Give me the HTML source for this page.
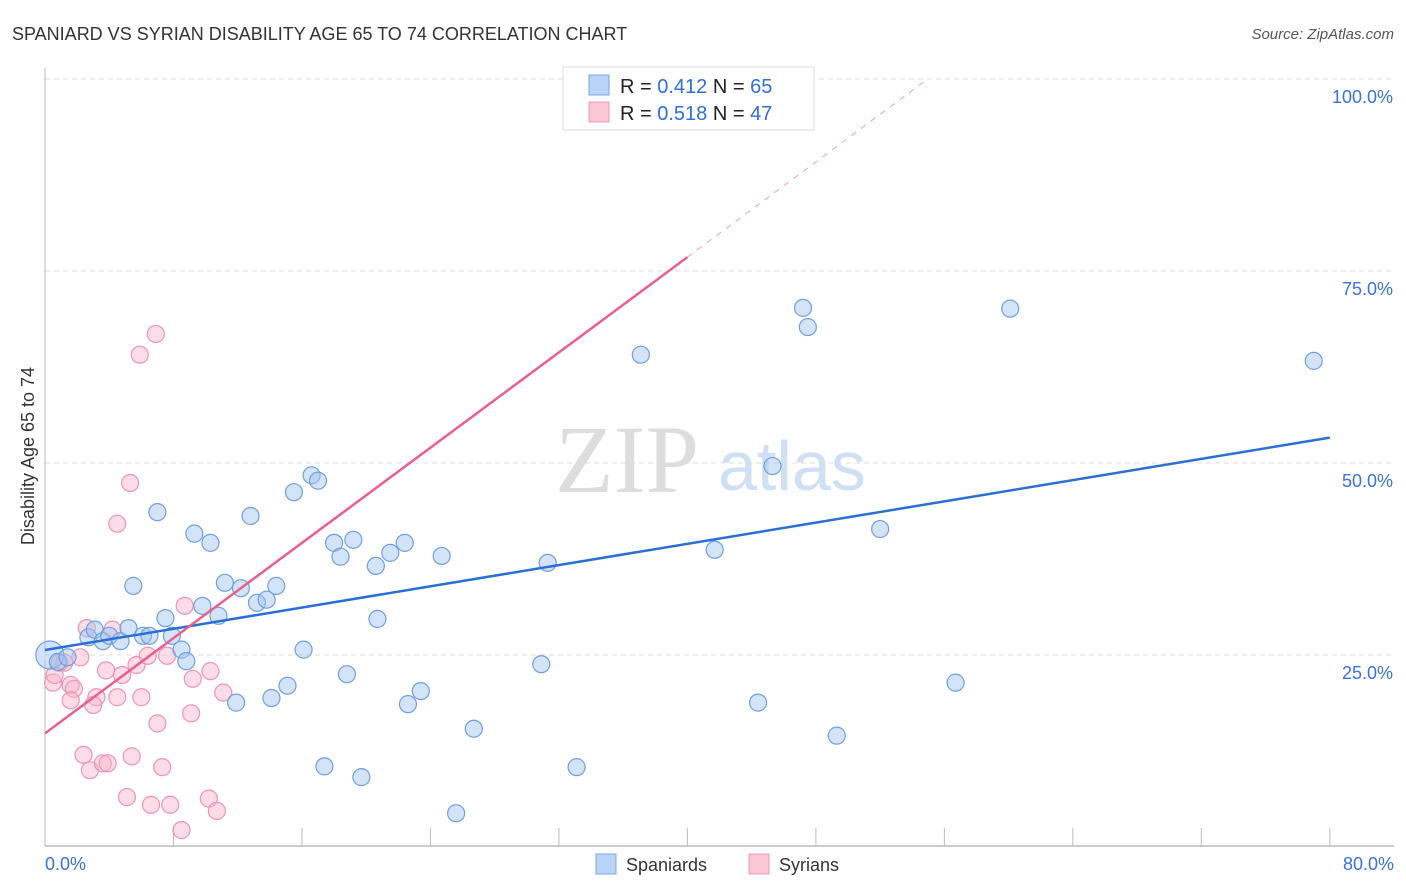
<!DOCTYPE html>
<html><head><meta charset="utf-8"><style>
body{margin:0;background:#fff;font-family:"Liberation Sans",sans-serif}
svg{display:block}
</style></head><body>
<svg id="chart" width="1406" height="892">
<text x="12" y="40" font-size="18" fill="#333">SPANIARD VS SYRIAN DISABILITY AGE 65 TO 74 CORRELATION CHART</text>
<text x="1394" y="39" font-size="15" fill="#555" font-style="italic" text-anchor="end">Source: ZipAtlas.com</text>
<g>
<text x="555" y="492" font-size="96" font-family="Liberation Serif,serif" fill="#ddd">ZIP</text>
<text x="718" y="490" font-size="70" fill="#cfe0f5">atlas</text>
</g>
<g id="grid"></g>
<g id="axes"></g>
<line x1="45" y1="653" x2="45" y2="660" stroke="#eee"/>
<text x="34" y="456" font-size="18" fill="#333" text-anchor="middle" transform="rotate(-90 34 456)">Disability Age 65 to 74</text>
<g id="pinkpts"></g>
<g id="bluepts"></g>
<g id="lines"></g>
<g>
<rect x="563" y="67" width="251" height="63" fill="#fff" stroke="#ddd"/>
<rect x="589" y="75" width="20" height="20" fill="#b9d4f6" stroke="#7aa7e3"/>
<rect x="589" y="102" width="20" height="20" fill="#fbc6d6" stroke="#ee9cb6"/>
<text x="620" y="93" font-size="20" fill="#222">R = <tspan fill="#2f6fd6">0.412</tspan>   N = <tspan fill="#2f6fd6">65</tspan></text>
<text x="620" y="120" font-size="20" fill="#222">R = <tspan fill="#2f6fd6">0.518</tspan>   N = <tspan fill="#2f6fd6">47</tspan></text>
</g>
<text x="45" y="870" font-size="18" fill="#3a72d6">0.0%</text>
<text x="1394" y="870" font-size="18" fill="#3a72d6" text-anchor="end">80.0%</text>
<g>
<rect x="596" y="854" width="20" height="20" fill="#b9d4f6" stroke="#7aa7e3"/>
<text x="626" y="871" font-size="18" fill="#333">Spaniards</text>
<rect x="749" y="854" width="20" height="20" fill="#fbc6d6" stroke="#ee9cb6"/>
<text x="779" y="871" font-size="18" fill="#333">Syrians</text>
</g>
</svg>
<script>
const yTicks=[25,50,75,100];
const yTickLabels=["25.0%","50.0%","75.0%","100.0%"];
const xTicks=[0,8,16,24,32,40,48,56,64,72,80];
const blueX=[0.3,0.8,1.4,2.7,3.1,3.6,4.0,4.7,5.2,5.5,6.1,6.5,7.0,7.5,7.9,8.5,8.8,9.3,9.8,10.3,10.8,11.2,11.9,12.2,12.8,13.2,13.8,14.1,14.4,15.1,15.5,16.1,16.6,17.0,17.4,18.0,18.4,18.8,19.2,19.7,20.6,20.7,21.5,22.4,22.6,23.4,24.7,25.6,26.7,30.9,31.3,33.1,37.1,41.7,44.4,45.3,47.2,47.5,49.3,52.0,56.7,60.1,79.0];
const blueY=[25.0,24.1,24.7,27.3,28.3,26.8,27.5,26.8,28.5,34.0,27.5,27.5,43.6,29.8,27.5,25.7,24.2,40.8,31.4,39.6,30.1,34.4,18.8,33.7,43.1,31.8,32.2,19.4,34.0,21.0,46.2,25.7,48.4,47.7,10.5,39.6,37.8,22.5,40.0,9.1,36.6,29.7,38.3,39.6,18.6,20.3,37.9,4.4,15.4,23.8,37.0,10.4,64.1,38.7,18.8,49.6,70.2,67.7,14.5,41.4,21.4,70.1,63.3];
const pinkX=[0.5,0.6,0.9,1.2,1.6,1.8,1.6,2.2,2.6,3.2,3.0,2.4,2.8,3.6,3.9,3.8,4.2,4.5,4.5,4.8,5.1,5.3,5.4,5.7,5.9,6.0,6.4,6.6,6.9,7.0,7.3,7.6,7.8,8.5,8.7,9.2,9.1,10.2,10.3,10.7,11.1,38.0];
const pinkY=[21.4,22.4,24.0,24.0,21.1,20.6,19.1,24.7,28.5,19.5,18.5,12.0,10.0,10.9,10.9,23.0,28.3,42.1,19.5,22.4,6.5,47.4,11.8,23.7,64.1,19.5,24.9,5.5,66.8,16.1,10.4,24.9,5.5,2.2,31.4,21.9,17.4,6.3,22.9,4.7,20.1,99.9];
const blueTrend=[25.65,53.3];
const pinkTrend=[14.8,76.8,40];
const NS="http://www.w3.org/2000/svg";
const sx=v=>45+v*16.06, sy=v=>847-v*7.68;
function mk(t,a,p){const e=document.createElementNS(NS,t);for(const k in a)e.setAttribute(k,a[k]);p.appendChild(e);return e;}
const grid=document.getElementById('grid'),axes=document.getElementById('axes');
yTicks.forEach((t,i)=>{
 const l=mk('line',{x1:45,x2:1394,y1:sy(t),y2:sy(t),stroke:'#ddd','stroke-dasharray':'5,4'},grid);
 
 
 const tx=mk('text',{x:1393,y:sy(t)+24,'font-size':18,fill:'#3a72d6','text-anchor':'end'},grid);
 tx.textContent=yTickLabels[i];
 
 
});
mk('line',{x1:45,x2:45,y1:68,y2:846,stroke:'#bbb'},axes);
mk('line',{x1:45,x2:1394,y1:846,y2:846,stroke:'#bbb','stroke-width':1.5},axes);
xTicks.forEach(t=>{
 const l=mk('line',{x1:sx(t),x2:sx(t),y1:828,y2:846,stroke:'#bbb'},axes);
 
 
});
const bp=document.getElementById('bluepts'),pp=document.getElementById('pinkpts');
pinkX.forEach((x,i)=>{
 const c=mk('circle',{cx:sx(x),cy:sy(pinkY[i]),r:8.5,fill:'rgba(248,180,202,0.45)',stroke:'#ec95b2','stroke-width':1.2},pp);
 
 
});
blueX.forEach((x,i)=>{
 const c=mk('circle',{cx:sx(x),cy:sy(blueY[i]),r:i==0?14:8.5,fill:'rgba(160,195,240,0.45)',stroke:'#6f9fdf','stroke-width':1.2},bp);
 
 
});
const lg=document.getElementById('lines');
const b=mk('line',{x1:sx(0),y1:sy(blueTrend[0]),x2:sx(80),y2:sy(blueTrend[1]),stroke:'#2a6fd6','stroke-width':2.5},lg);


const slope=(pinkTrend[1]-pinkTrend[0])/pinkTrend[2];
const p=mk('line',{x1:sx(0),y1:sy(pinkTrend[0]),x2:sx(pinkTrend[2]),y2:sy(pinkTrend[1]),stroke:'#e8608e','stroke-width':2.5},lg);


const xe=(100-pinkTrend[0])/slope;
const d=mk('line',{x1:sx(pinkTrend[2]),y1:sy(pinkTrend[1]),x2:sx(xe),y2:sy(100),stroke:'#f0a0ba','stroke-width':1,'stroke-dasharray':'6,6'},lg);


</script>
</body></html>
